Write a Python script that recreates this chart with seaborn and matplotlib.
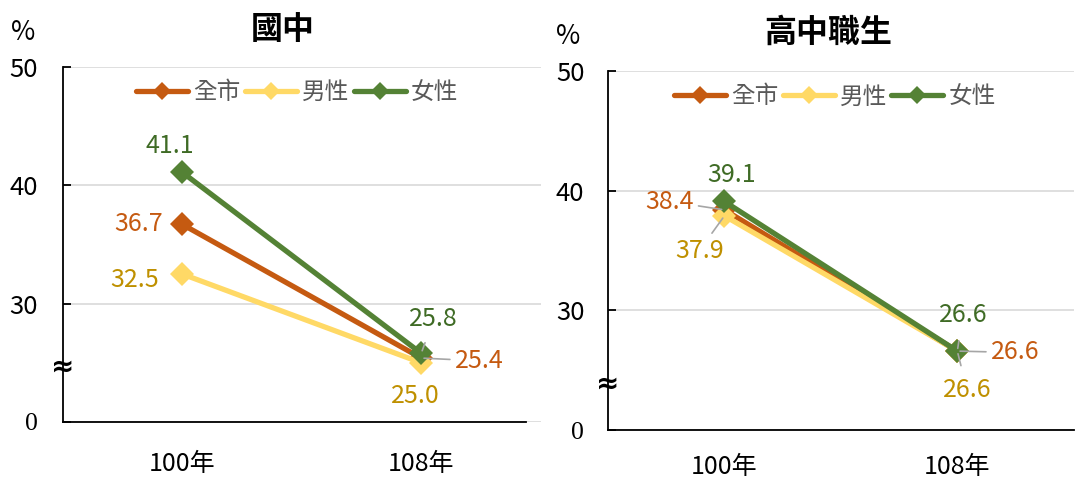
import numpy as np
import pandas as pd
import seaborn as sns
import matplotlib.pyplot as plt
from matplotlib.lines import Line2D

# %% data
years = ['100年', '108年']
groups = ['全市', '男性', '女性']
junior_total = [36.7, 25.4]
junior_male = [32.5, 25.0]
junior_female = [41.1, 25.8]
senior_total = [38.4, 26.6]
senior_male = [37.9, 26.6]
senior_female = [39.1, 26.6]
panel_titles = ['國中', '高中職生']
ytick_vals = [20, 30, 40, 50]      # axis is broken: 20 is shown as "0"
ytick_labels = ['0', '30', '40', '50']

rows = []
for panel, vals in zip(panel_titles, [(junior_total, junior_male, junior_female),
                                      (senior_total, senior_male, senior_female)]):
    for grp, series in zip(groups, vals):
        for i, (yr, v) in enumerate(zip(years, series)):
            rows.append(dict(panel=panel, group=grp, year=yr, xpos=i, value=v))
df = pd.DataFrame(rows)

# %% styles
line_colors = {'全市': '#C55A11', '男性': '#FFD966', '女性': '#548235'}
text_colors = {'全市': '#C55A11', '男性': '#BF9000', '女性': '#3F6B25'}

# label offsets in points: (dx, dy, ha, va, leader line shrink or None)
label_pos = {
    '國中': {
        ('全市', 0): (-14, 0, 'right', 'center', None),
        ('男性', 0): (-17, -4, 'right', 'center', None),
        ('女性', 0): (-9, 19, 'center', 'center', None),
        ('全市', 1): (24, -2, 'left', 'center', 1),
        ('男性', 1): (-4, -24, 'center', 'center', None),
        ('女性', 1): (9, 25, 'center', 'center', 6),
    },
    '高中職生': {
        ('全市', 0): (-22, 6, 'right', 'center', 1),
        ('男性', 0): (-18, -25, 'center', 'center', 1),
        ('女性', 0): (5, 19, 'center', 'center', None),
        ('全市', 1): (24, -1, 'left', 'center', 1),
        ('男性', 1): (7, -28, 'center', 'center', 6),
        ('女性', 1): (4, 26, 'center', 'center', 7),
    },
}

sns.set_style('white')
plt.rcParams['font.family'] = ['Noto Sans CJK TC', 'DejaVu Sans']

fig = plt.figure(figsize=(10.77, 4.8), dpi=100)
ax_boxes = [[0.0585, 0.121, 0.4435, 0.739],
            [0.5645, 0.104, 0.4325, 0.748]]
title_xy = [(283, 30), (828, 33)]
pct_xy = [(23, 33), (568, 37)]
break_y = [24.7, 23.9]
legend_x = [0.49, 0.487]
spine_end = [1.437, 1.5]

for k, panel in enumerate(panel_titles):
    ax = fig.add_axes(ax_boxes[k])
    sub = df[df['panel'] == panel]
    sns.lineplot(data=sub, x='xpos', y='value', hue='group', hue_order=groups,
                 palette=line_colors, marker='D', markersize=12,
                 markeredgewidth=0, linewidth=3.8, legend=False, ax=ax)

    # data labels
    for _, r in sub.iterrows():
        dx, dy, ha, va, shrink = label_pos[panel][(r['group'], r['xpos'])]
        arrow = None
        if shrink is not None:
            arrow = dict(arrowstyle='-', color='#A6A6A6', lw=1.2, shrinkA=shrink, shrinkB=2)
        ax.annotate(f"{r['value']:.1f}", xy=(r['xpos'], r['value']),
                    xytext=(dx, dy), textcoords='offset points',
                    ha=ha, va=va, fontsize=18, color=text_colors[r['group']],
                    arrowprops=arrow, zorder=5)

    ax.set_xlim(-0.5, 1.5)
    ax.set_ylim(20, 50)
    ax.set_xticks(range(len(years)))
    ax.set_xticklabels(years)
    ax.set_xticks([0.5], minor=True)
    ax.set_yticks(ytick_vals)
    ax.set_yticklabels(ytick_labels)
    ax.get_yticklabels()[0].set_fontfamily(['Liberation Serif'])
    ax.set_xlabel('')
    ax.set_ylabel('')
    ax.grid(axis='y', color='#D9D9D9', lw=1.2)
    ax.set_axisbelow(True)

    ax.tick_params(axis='x', which='major', length=0, labelsize=18,
                   pad=21 if k == 0 else 17, colors='black')
    ax.tick_params(axis='x', which='minor', direction='in', length=7, width=1.3, colors='black')
    ax.tick_params(axis='y', direction='in', length=6, width=1.3, labelsize=18.5,
                   pad=18 if k == 0 else 17, colors='black', left=True)
    for side in ['top', 'right']:
        ax.spines[side].set_visible(False)
    for side in ['left', 'bottom']:
        ax.spines[side].set_color('black')
        ax.spines[side].set_linewidth(1.3)
    ax.spines['bottom'].set_bounds(-0.5, spine_end[k])

    # axis break mark
    ax.text(-0.5, break_y[k], '≈', ha='center', va='center', fontsize=20,
            fontweight='bold', family=['DejaVu Sans'], color='black',
            clip_on=False, zorder=6)

    handles = [Line2D([], [], color=line_colors[g], lw=3.8, marker='D',
                      markersize=9, markeredgewidth=0) for g in groups]
    leg = ax.legend(handles, groups, loc='center', bbox_to_anchor=(legend_x[k], 0.928),
                    ncol=3, frameon=False, fontsize=17, handlelength=2.2,
                    handletextpad=0.2, columnspacing=0.2, borderaxespad=0)
    for t in leg.get_texts():
        t.set_color('#595959')

    fig.text(title_xy[k][0] / 1077, 1 - title_xy[k][1] / 480, panel,
             ha='center', va='center', fontsize=23, fontweight='bold', color='black')
    fig.text(pct_xy[k][0] / 1077, 1 - pct_xy[k][1] / 480, '%',
             ha='center', va='center', fontsize=19, color='black')

fig.savefig('out.png', dpi=100)
